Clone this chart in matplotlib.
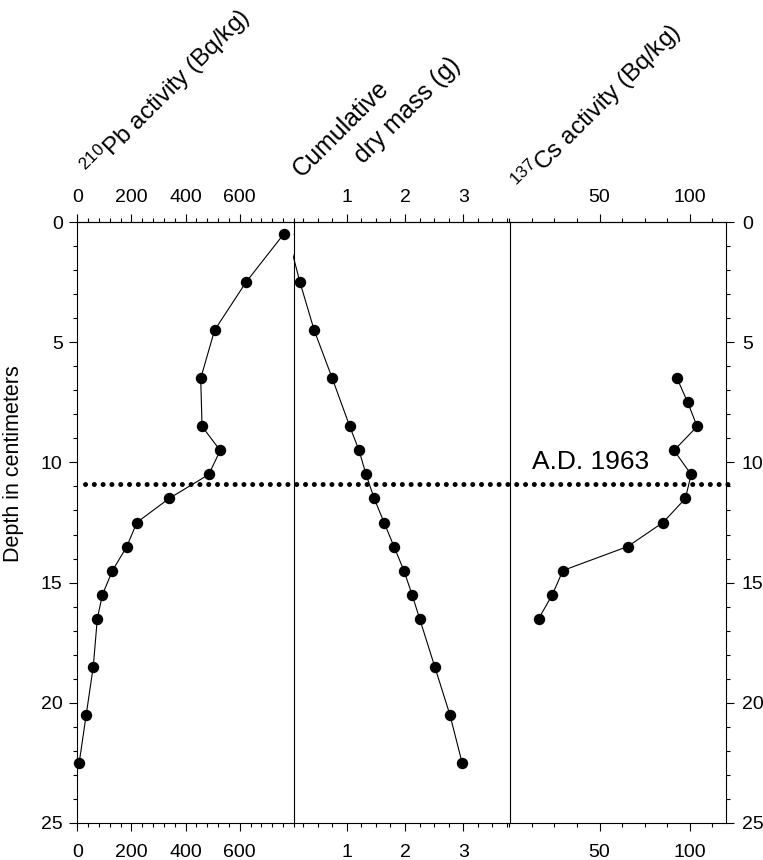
import matplotlib
matplotlib.use("Agg")
import matplotlib.pyplot as plt
import matplotlib.transforms as mtransforms
from matplotlib.ticker import MultipleLocator, FixedLocator

plt.rcParams["font.family"] = ["Liberation Sans", "DejaVu Sans"]
plt.rcParams["mathtext.fontset"] = "custom"
plt.rcParams["mathtext.rm"] = "Liberation Sans"

# -------------------------------------------------
# Data
# -------------------------------------------------
depth_core = [0.5, 2.5, 4.5, 6.5, 8.5, 9.5, 10.5, 11.5,
              12.5, 13.5, 14.5, 15.5, 16.5, 18.5, 20.5, 22.5]
pb210 = [762, 623, 507, 456, 461, 528, 486, 339,
         220, 183, 130, 93, 74, 59, 33, 7]
dry_mass = [-0.02, 0.195, 0.44, 0.75, 1.05, 1.21, 1.33, 1.47,
            1.64, 1.81, 1.98, 2.12, 2.25, 2.51, 2.77, 2.98]

depth_cs = [6.5, 7.5, 8.5, 9.5, 10.5, 11.5, 12.5, 13.5, 14.5, 15.5, 16.5]
cs137 = [93, 98.9, 104.1, 91.3, 100.8, 97.6, 85.2, 65.6, 29.7, 23.9, 16.3]

horizon_depth = 10.9
horizon_label = "A.D. 1963"

# -------------------------------------------------
# Layout (pixels of a 763x860 canvas)
# -------------------------------------------------
FW, FH = 763, 860
fig = plt.figure(figsize=(FW / 100, FH / 100), dpi=100)

top_px, bot_px = 222.3, 822.7
lefts_px = [77.3, 293.3, 509.3]
panel_w = 216.5

axes = []
for lp in lefts_px:
    ax = fig.add_axes([lp / FW, 1 - bot_px / FH, panel_w / FW, (bot_px - top_px) / FH])
    ax.patch.set_visible(False)
    axes.append(ax)
ax1, ax2, ax3 = axes

TICK_FS = 14
mk = dict(marker="o", markersize=7.2, color="black", linewidth=0.8)

ax1.plot(pb210, depth_core, clip_on=False, zorder=3, **mk)
ax2.plot(dry_mass, depth_core, zorder=3, **mk)
ax3.plot(cs137, depth_cs, clip_on=False, zorder=3, **mk)

ax1.set_xlim(0, 800)
ax2.set_xlim(0.08, 3.8)
ax3.set_xlim(0, 120)

major_x = {0: [0, 200, 400, 600], 1: [1, 2, 3], 2: [50, 100]}
minor_x = {0: 40, 1: 0.25, 2: 12.5}

for i, ax in enumerate(axes):
    ax.set_ylim(25, 0)
    ax.yaxis.set_major_locator(MultipleLocator(5))
    ax.yaxis.set_minor_locator(MultipleLocator(1))
    ax.xaxis.set_major_locator(FixedLocator(major_x[i]))
    ax.xaxis.set_minor_locator(MultipleLocator(minor_x[i]))
    ax.tick_params(axis="x", which="both", direction="out", top=False, bottom=True,
                   labeltop=False, labelbottom=True, labelsize=TICK_FS, pad=10)
    ax.tick_params(which="major", length=5.5, width=0.8)
    ax.tick_params(which="minor", length=3, width=0.8)
    for sp in ax.spines.values():
        sp.set_linewidth(0.8)

    # top axis with the same scale
    sec = ax.secondary_xaxis("top")
    sec.xaxis.set_major_locator(FixedLocator(major_x[i]))
    sec.xaxis.set_minor_locator(MultipleLocator(minor_x[i]))
    sec.tick_params(which="both", direction="out", labelsize=TICK_FS, pad=6, width=0.8)
    sec.tick_params(which="major", length=5.5)
    sec.tick_params(which="minor", length=3)
    sec.spines["top"].set_linewidth(0.8)

ax1.tick_params(axis="y", which="both", direction="out", left=True, right=False,
                labelleft=True, labelright=False, labelsize=TICK_FS, pad=5)
ax2.tick_params(axis="y", which="both", left=False, right=False,
                labelleft=False, labelright=False)
ax3.tick_params(axis="y", which="both", direction="out", left=False, right=True,
                labelleft=False, labelright=True, labelsize=TICK_FS, pad=6)
ax2.spines["left"].set_visible(False)
ax3.spines["left"].set_visible(False)

# dotted 1963 horizon across all panels
trans = mtransforms.blended_transform_factory(fig.transFigure, ax1.transData)
ax1.plot([85 / FW, 733 / FW], [horizon_depth, horizon_depth], transform=trans,
         color="black", linewidth=3.6, linestyle=(0, (0.01, 1.75)),
         dash_capstyle="round", clip_on=False, zorder=4)
ax3.text(12.4, 10.27, horizon_label, fontsize=19, ha="left", va="baseline")

# axis titles
fig.text(13.3 / FW, 1 - 464 / FH, "Depth in centimeters", rotation=90,
         fontsize=15.5, ha="center", va="center")

title_kw = dict(rotation=45, rotation_mode="anchor", ha="left", va="baseline",
                fontsize=17.5)
fig.text(92 / FW, 1 - 178 / FH, r"$\mathregular{^{210}}$Pb activity (Bq/kg)", **title_kw)
fig.text(302 / FW, 1 - 178 / FH, "Cumulative", fontsize=18,
         **{k: v for k, v in title_kw.items() if k != "fontsize"})
fig.text(363 / FW, 1 - 164 / FH, "dry mass (g)", fontsize=18,
         **{k: v for k, v in title_kw.items() if k != "fontsize"})
fig.text(523 / FW, 1 - 193 / FH, r"$\mathregular{^{137}}$Cs activity (Bq/kg)", **title_kw)

fig.savefig("out.png", dpi=100)
